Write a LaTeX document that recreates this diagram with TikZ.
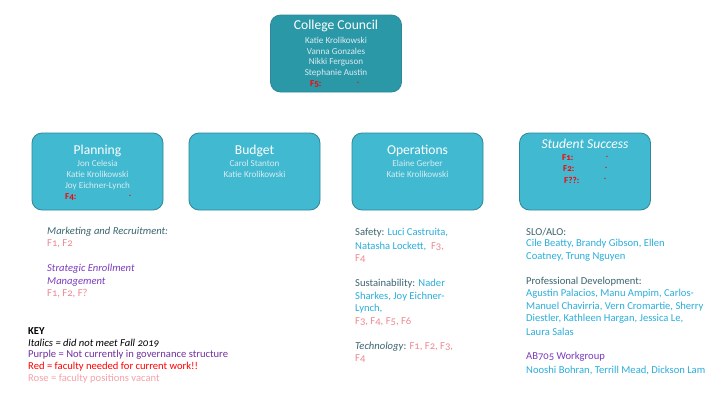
\documentclass[tikz,border=0pt]{standalone}
\usepackage{fontspec}
\setmainfont[Numbers=OldStyle]{Carlito}
\begin{document}
\begin{tikzpicture}[x=1pt,y=-1pt,
  box/.style={draw=boxedge,line width=0.8pt,fill=boxfill,rounded corners=10pt,minimum width=131pt,minimum height=77pt,inner sep=0pt},
  cbox/.style={box,fill=ccfill},
  ttl/.style={text=white,font=\fontsize{13.6}{15}\selectfont,inner sep=0pt},
  nm/.style={text=namec,font=\fontsize{9.1}{10}\selectfont,inner sep=0pt},
  fr/.style={text=red,font=\fontsize{9}{10}\selectfont\bfseries,inner sep=0pt},
  tx/.style={anchor=west,inner sep=0pt,font=\fontsize{10.6}{12}\selectfont},
  itx/.style={tx,font=\fontsize{10.6}{12}\selectfont\itshape},
  lab/.style={tx,text=labc},
  blu/.style={tx,text=bluec},
  rose/.style={tx,text=rosec},
  pur/.style={tx,text=purc}
]
\definecolor{boxfill}{HTML}{41B9D1}
\definecolor{ccfill}{HTML}{2B98A8}
\definecolor{boxedge}{HTML}{2F8797}
\definecolor{namec}{HTML}{D9ECF0}
\definecolor{labc}{HTML}{3B6570}
\definecolor{bluec}{HTML}{2BAEDB}
\definecolor{rosec}{HTML}{EC8A92}
\definecolor{purc}{HTML}{7B3BBE}
\definecolor{keypur}{HTML}{7030A0}
\definecolor{keyrose}{HTML}{F4A3AA}
\useasboundingbox (0,0) rectangle (720,405);
\fill[white] (0,0) rectangle (720,405);

% boxes
\node[cbox] (cc) at (336,53.5) {};
\node[box] (plan) at (97.5,171.5) {};
\node[box] (bud) at (254.5,171.5) {};
\node[box] (ops) at (417.5,171.5) {};
\node[box] (ss) at (585,171.5) {};

% College Council
\node[ttl] (cct) at (336,26) {College Council};
\node[nm] (cc1) at (336,40) {Katie Krolikowski};
\node[nm] (cc2) at (336,51) {Vanna Gonzales};
\node[nm] (cc3) at (336,62) {Nikki Ferguson};
\node[nm] (cc4) at (336,73) {Stephanie Austin};
\node[fr,anchor=west] (cc5) at (310,84) {F5:};
\node[fr] (cc5d) at (358,83) {.};

% Planning
\node[ttl] (plt) at (97.5,151) {Planning};
\node[nm] (pl1) at (97.5,163) {Jon Celesia};
\node[nm] (pl2) at (97.5,174) {Katie Krolikowski};
\node[nm] (pl3) at (97.5,186) {Joy Eichner-Lynch};
\node[fr,anchor=west] (pl4) at (65,197) {F4:};
\node[fr] (pl4d) at (130,196) {.};

% Budget
\node[ttl] (bdt) at (254.5,151) {Budget};
\node[nm] (bd1) at (254.5,163) {Carol Stanton};
\node[nm] (bd2) at (254.5,174) {Katie Krolikowski};

% Operations
\node[ttl] (opt) at (417.5,151) {Operations};
\node[nm] (op1) at (417.5,163) {Elaine Gerber};
\node[nm] (op2) at (417.5,174) {Katie Krolikowski};

% Student Success
\node[ttl,font=\fontsize{13.6}{15}\selectfont\itshape] (sst) at (585,144) {Student Success};
\node[fr,anchor=west] (ss1) at (562,158) {F1:};
\node[fr] (ss1d) at (607,157) {.};
\node[fr,anchor=west] (ss2) at (563,169) {F2:};
\node[fr] (ss2d) at (606,168) {.};
\node[fr,anchor=west] (ss3) at (564,180) {F??:};
\node[fr] (ss3d) at (605,179) {.};

% Planning column
\node[itx,text=labc] (mr) at (47,232) {Marketing and Recruitment:};
\node[rose] (mrf) at (47,244) {F1, F2};
\node[itx,text=purc] (se1) at (47,269) {Strategic Enrollment};
\node[itx,text=purc] (se2) at (47,282) {Management};
\node[rose] (sef) at (47,294) {F1, F2, F?};

% Key
\node[tx,font=\fontsize{10.6}{12}\selectfont\bfseries] (key) at (28,331) {KEY};
\node[itx] (k1) at (28,343) {Italics = did not meet Fall 2019};
\node[tx,text=keypur] (k2) at (28,355) {Purple = Not currently in governance structure};
\node[tx,text=red] (k3) at (28,367) {Red = faculty needed for current work!!};
\node[tx,text=keyrose] (k4) at (28,379) {Rose = faculty positions vacant};

% Operations column
\node[lab] (sa1) at (355,233) {Safety: \textcolor{bluec}{Luci Castruita,}};
\node[blu] (sa2) at (355,246) {Natasha Lockett,\ \ \textcolor{rosec}{F3,}};
\node[rose] (sa3) at (355,259) {F4};
\node[lab] (su1) at (355,284) {Sustainability: \textcolor{bluec}{Nader}};
\node[blu] (su2) at (355,297) {Sharkes, Joy Eichner-};
\node[blu] (su3) at (355,309) {Lynch,};
\node[rose] (su4) at (355,322) {F3, F4, F5, F6};
\node[lab] (te1) at (355,347) {\textit{Technology}: \textcolor{rosec}{F1, F2, F3,}};
\node[rose] (te2) at (355,359) {F4};

% Student Success column
\node[lab] (sl1) at (526,232) {SLO/ALO:};
\node[blu] (sl2) at (526,244) {Cile Beatty, Brandy Gibson, Ellen};
\node[blu] (sl3) at (526,257) {Coatney, Trung Nguyen};
\node[lab] (pd1) at (526,282) {Professional Development:};
\node[blu] (pd2) at (526,294) {Agustin Palacios, Manu Ampim, Carlos-};
\node[blu] (pd3) at (526,307) {Manuel Chavirria, Vern Cromartie, Sherry};
\node[blu] (pd4) at (526,319) {Diestler, Kathleen Hargan, Jessica Le,};
\node[blu] (pd5) at (526,332) {Laura Salas};
\node[pur] (ab1) at (526,357) {AB705 Workgroup};
\node[blu] (ab2) at (526,370) {Nooshi Bohran, Terrill Mead, Dickson Lam};
\end{tikzpicture}
\end{document}
